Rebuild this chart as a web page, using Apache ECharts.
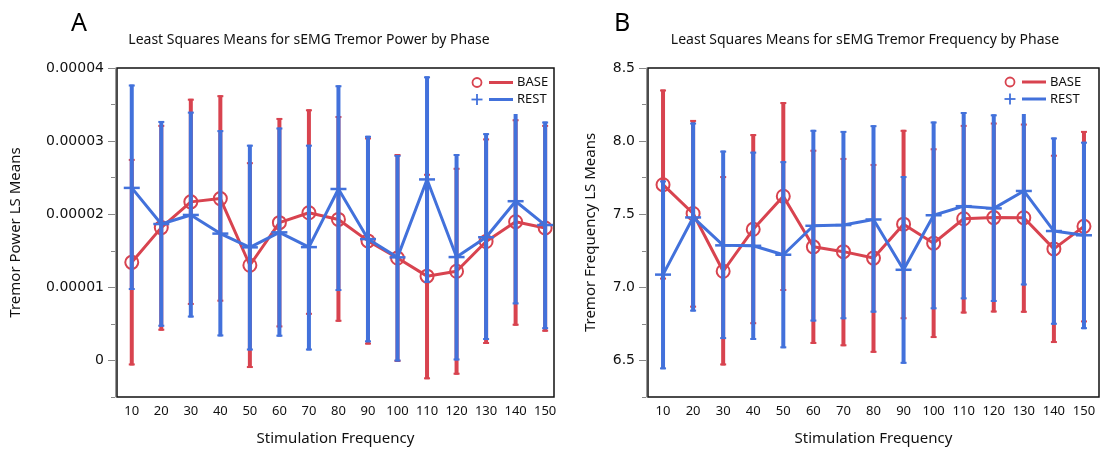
<!DOCTYPE html>
<html><head><meta charset="utf-8">
<script src="https://cdn.jsdelivr.net/npm/echarts@6/dist/echarts.min.js"></script>
<style>html,body{margin:0;padding:0;background:#fff}#c{width:1103px;height:451px}</style>
</head><body><div id="c"></div>
<script>
// ---- data ----
const freqs = [10,20,30,40,50,60,70,80,90,100,110,120,130,140,150];

// Panel A: tremor power LS means (BASE / REST) with lower / upper error limits
const powerBaseMean = [1.342e-5,1.817e-5,2.169e-5,2.214e-5,1.302e-5,1.885e-5,2.020e-5,1.929e-5,1.635e-5,1.401e-5,1.153e-5,1.220e-5,1.627e-5,1.898e-5,1.812e-5];
const powerBaseLow  = [-0.068e-5,0.407e-5,0.759e-5,0.804e-5,-0.104e-5,0.452e-5,0.624e-5,0.529e-5,0.217e-5,-0.020e-5,-0.258e-5,-0.195e-5,0.225e-5,0.475e-5,0.393e-5];
const powerBaseHigh = [2.757e-5,3.222e-5,3.580e-5,3.628e-5,2.712e-5,3.317e-5,3.435e-5,3.344e-5,3.050e-5,2.824e-5,2.553e-5,2.635e-5,3.037e-5,3.299e-5,3.222e-5];
const powerRestMean = [2.360e-5,1.866e-5,1.990e-5,1.735e-5,1.547e-5,1.752e-5,1.550e-5,2.345e-5,1.660e-5,1.410e-5,2.476e-5,1.414e-5,1.685e-5,2.178e-5,1.852e-5];
const powerRestLow  = [0.963e-5,0.461e-5,0.587e-5,0.329e-5,0.136e-5,0.325e-5,0.136e-5,0.949e-5,0.248e-5,-0.014e-5,1.062e-5,0.000e-5,0.279e-5,0.767e-5,0.428e-5];
const powerRestHigh = [3.774e-5,3.276e-5,3.403e-5,3.150e-5,2.951e-5,3.186e-5,2.951e-5,3.764e-5,3.073e-5,2.811e-5,3.886e-5,2.824e-5,3.109e-5,3.590e-5,3.268e-5];

// Panel B: tremor frequency LS means
const freqBaseMean = [7.702,7.505,7.110,7.397,7.623,7.277,7.244,7.200,7.432,7.302,7.469,7.477,7.476,7.263,7.417];
const freqBaseLow  = [7.053,6.861,6.466,6.748,6.975,6.613,6.597,6.552,6.782,6.653,6.821,6.828,6.826,6.619,6.760];
const freqBaseHigh = [8.353,8.145,7.761,8.048,8.267,7.941,7.885,7.844,8.077,7.951,8.111,8.127,8.120,7.907,8.070];
const freqRestMean = [7.087,7.478,7.287,7.284,7.223,7.421,7.426,7.464,7.120,7.493,7.555,7.540,7.659,7.385,7.356];
const freqRestLow  = [6.439,6.834,6.646,6.640,6.583,6.766,6.782,6.827,6.477,6.850,6.918,6.900,7.013,6.744,6.714];
const freqRestHigh = [7.731,8.127,7.935,7.928,7.863,8.077,8.070,8.109,7.761,8.134,8.199,8.183,8.310,8.025,7.996];

// tick labels
const powerTicks = [0, 0.00001, 0.00002, 0.00003, 0.00004];
const powerTickLabels = ['0', '0.00001', '0.00002', '0.00003', '0.00004'];
const powerMinorStep = 0.000005;
const freqTicks = [6.5, 7.0, 7.5, 8.0, 8.5];
const freqTickLabels = ['6.5', '7.0', '7.5', '8.0', '8.5'];
const freqMinorStep = 0.25;

const seriesNames = ['BASE', 'REST'];
const panelTitles = ['Least Squares Means for sEMG Tremor Power by Phase', 'Least Squares Means for sEMG Tremor Frequency by Phase'];
const yTitles = ['Tremor Power LS Means', 'Tremor Frequency LS Means'];
const xTitle = 'Stimulation Frequency';

// ---- styling ----
const RED = '#D8434F', BLUE = '#4271DB';
const FONT = 'Noto Sans';

function tickFormatter(vals, labels) {
  return function (v) {
    for (let i = 0; i < vals.length; i++) if (Math.abs(v - vals[i]) < 1e-9 * Math.max(1, Math.abs(vals[i])) + 1e-12) return labels[i];
    return '';
  };
}

function errSeries(name, color, xi, yi, lo, hi, z) {
  return {
    type: 'custom', name: name, xAxisIndex: xi, yAxisIndex: yi, z: z, silent: true,
    data: freqs.map((f, i) => [f, lo[i], hi[i]]),
    encode: { x: 0, y: [1, 2] },
    renderItem: function (params, api) {
      const x = api.value(0);
      const a = api.coord([x, api.value(1)]);
      const b = api.coord([x, api.value(2)]);
      return { type: 'group', children: [
        { type: 'line', shape: { x1: a[0], y1: a[1], x2: b[0], y2: b[1] }, style: { stroke: color, lineWidth: 4 } },
        { type: 'line', shape: { x1: a[0] - 3, y1: a[1] - 1, x2: a[0] + 3, y2: a[1] - 1 }, style: { stroke: color, lineWidth: 2 } },
        { type: 'line', shape: { x1: b[0] - 3, y1: b[1] + 1, x2: b[0] + 3, y2: b[1] + 1 }, style: { stroke: color, lineWidth: 2 } }
      ] };
    }
  };
}
function lineSeries(name, color, xi, yi, m, z) {
  return { type: 'line', name: name, xAxisIndex: xi, yAxisIndex: yi, z: z, silent: true,
    data: freqs.map((f, i) => [f, m[i]]), symbol: 'none',
    lineStyle: { color: color, width: 3 }, itemStyle: { color: color } };
}
function markSeries(name, color, xi, yi, m, kind, z) {
  return {
    type: 'custom', name: name, xAxisIndex: xi, yAxisIndex: yi, z: z, silent: true,
    data: freqs.map((f, i) => [f, m[i]]),
    encode: { x: 0, y: 1 },
    renderItem: function (params, api) {
      const p = api.coord([api.value(0), api.value(1)]);
      if (kind === 'circle') {
        return { type: 'circle', shape: { cx: p[0], cy: p[1], r: 6.5 }, style: { fill: 'none', stroke: color, lineWidth: 2 } };
      }
      return { type: 'group', children: [
        { type: 'line', shape: { x1: p[0] - 8, y1: p[1], x2: p[0] + 8, y2: p[1] }, style: { stroke: color, lineWidth: 2.5 } },
        { type: 'line', shape: { x1: p[0], y1: p[1] - 8, x2: p[0], y2: p[1] + 8 }, style: { stroke: color, lineWidth: 2.5 } }
      ] };
    }
  };
}

function legendGraphic(x, y, clipRect) {
  const els = [];
  els.push({ type: 'rect', shape: clipRect, style: { fill: '#fff' }, z: 100 });
  els.push({ type: 'circle', shape: { cx: x, cy: y, r: 4.5 }, style: { fill: 'none', stroke: RED, lineWidth: 1.8 }, z: 101 });
  els.push({ type: 'line', shape: { x1: x + 12, y1: y, x2: x + 36, y2: y }, style: { stroke: RED, lineWidth: 3 }, z: 101 });
  els.push({ type: 'text', x: x + 40, y: y, style: { text: seriesNames[0], font: '13px "' + FONT + '"', fill: '#111', verticalAlign: 'middle' }, z: 101 });
  const y2 = y + 17;
  els.push({ type: 'line', shape: { x1: x - 5.5, y1: y2, x2: x + 5.5, y2: y2 }, style: { stroke: BLUE, lineWidth: 1.8 }, z: 101 });
  els.push({ type: 'line', shape: { x1: x, y1: y2 - 5.5, x2: x, y2: y2 + 5.5 }, style: { stroke: BLUE, lineWidth: 1.8 }, z: 101 });
  els.push({ type: 'line', shape: { x1: x + 12, y1: y2, x2: x + 36, y2: y2 }, style: { stroke: BLUE, lineWidth: 3 }, z: 101 });
  els.push({ type: 'text', x: x + 40, y: y2, style: { text: seriesNames[1], font: '13px "' + FONT + '"', fill: '#111', verticalAlign: 'middle' }, z: 101 });
  return els;
}

const grids = [
  { left: 117, top: 68, width: 437, height: 332, show: true, borderColor: '#111', borderWidth: 1.5, backgroundColor: 'transparent' },
  { left: 648, top: 68, width: 451, height: 332, show: true, borderColor: '#111', borderWidth: 1.5, backgroundColor: 'transparent' }
];

function xAxis(gi, max) {
  return { type: 'value', gridIndex: gi, min: 5, max: max,
    name: xTitle, nameLocation: 'middle', nameGap: 34,
    nameTextStyle: { fontFamily: FONT, fontSize: 15, color: '#111' },
    axisLine: { show: false }, axisTick: { show: false }, splitLine: { show: false },
    axisLabel: { customValues: freqs, fontFamily: FONT, fontSize: 13, color: '#111', margin: 8 } };
}
function yMain(gi, min, max, ticks, labels, name, gap) {
  return { type: 'value', gridIndex: gi, min: min, max: max, offset: 2, position: 'left',
    name: name, nameLocation: 'middle', nameGap: gap,
    nameTextStyle: { fontFamily: FONT, fontSize: 15, color: '#111' },
    axisLine: { show: true, lineStyle: { color: '#999', width: 1 } },
    axisTick: { show: true, customValues: ticks, length: 7, lineStyle: { color: '#888' } },
    splitLine: { show: false },
    axisLabel: { customValues: ticks, formatter: tickFormatter(ticks, labels), fontFamily: 'DejaVu Sans', fontSize: 14, color: '#111', margin: 11 } };
}
function yMinor(gi, min, max, step) {
  return { type: 'value', gridIndex: gi, min: min, max: max, interval: step, offset: 2, position: 'left',
    axisLine: { show: false }, splitLine: { show: false }, axisLabel: { show: false },
    axisTick: { show: true, length: 4, lineStyle: { color: '#888' } } };
}

const option = {
  animation: false,
  backgroundColor: '#fff',
  grid: grids,
  xAxis: [xAxis(0, 153), xAxis(1, 155)],
  yAxis: [
    yMain(0, -0.000005, 0.00004, powerTicks, powerTickLabels, yTitles[0], 92),
    yMinor(0, -0.000005, 0.00004, powerMinorStep),
    yMain(1, 6.25, 8.5, freqTicks, freqTickLabels, yTitles[1], 48),
    yMinor(1, 6.25, 8.5, freqMinorStep)
  ],
  series: [
    errSeries('BASE', RED, 0, 0, powerBaseLow, powerBaseHigh, 2),
    lineSeries('BASE', RED, 0, 0, powerBaseMean, 3),
    markSeries('BASE', RED, 0, 0, powerBaseMean, 'circle', 4),
    errSeries('REST', BLUE, 0, 0, powerRestLow, powerRestHigh, 5),
    lineSeries('REST', BLUE, 0, 0, powerRestMean, 6),
    markSeries('REST', BLUE, 0, 0, powerRestMean, 'plus', 7),
    errSeries('BASE', RED, 1, 2, freqBaseLow, freqBaseHigh, 2),
    lineSeries('BASE', RED, 1, 2, freqBaseMean, 3),
    markSeries('BASE', RED, 1, 2, freqBaseMean, 'circle', 4),
    errSeries('REST', BLUE, 1, 2, freqRestLow, freqRestHigh, 5),
    lineSeries('REST', BLUE, 1, 2, freqRestMean, 6),
    markSeries('REST', BLUE, 1, 2, freqRestMean, 'plus', 7)
  ],
  graphic: [].concat(
    [
      { type: 'text', x: 71, y: 24, style: { text: 'A', font: '25px "' + FONT + '"', fill: '#000', verticalAlign: 'middle' } },
      { type: 'text', x: 614, y: 24, style: { text: 'B', font: '25px "' + FONT + '"', fill: '#000', verticalAlign: 'middle' } },
      { type: 'text', x: 309, y: 40, style: { text: panelTitles[0], font: '14px "' + FONT + '"', fill: '#111', align: 'center', verticalAlign: 'middle' } },
      { type: 'text', x: 865, y: 40, style: { text: panelTitles[1], font: '14px "' + FONT + '"', fill: '#111', align: 'center', verticalAlign: 'middle' } }
    ],
    legendGraphic(477, 82.5, { x: 462, y: 70, width: 90, height: 44 }),
    legendGraphic(1010, 82, { x: 999, y: 70, width: 98, height: 44 })
  )
};

const chart = echarts.init(document.getElementById('c'), null, { renderer: 'canvas' });
chart.setOption(option);
</script>
</body></html>
